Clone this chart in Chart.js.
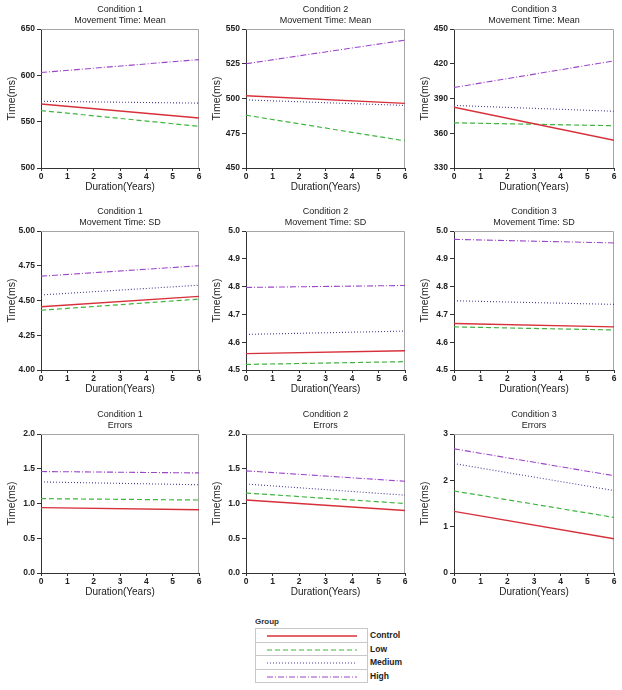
<!DOCTYPE html>
<html>
<head>
<meta charset="utf-8">
<script src="https://cdn.jsdelivr.net/npm/chart.js@4/dist/chart.umd.min.js"></script>
<style>
  body { margin: 0; background: #fff; width: 622px; height: 690px; position: relative; overflow: hidden;
         font-family: "Liberation Sans", Arial, sans-serif; }
  canvas.panel { position: absolute; }
  #legendTitle { position: absolute; left: 255px; top: 617px; font-size: 8px; font-weight: bold; color: #333; }
  #legend { position: absolute; left: 255px; top: 628px; }
  .lrow { position: relative; width: 111px; height: 12.6px; border: 1px solid #c8c8c8; border-top: none; }
  .lrow:first-child { border-top: 1px solid #c8c8c8; }
  .lrow canvas { position: absolute; left: 10px; top: 1px; }
  .lrow span { position: absolute; left: 114px; top: 1px; font-size: 8.5px; font-weight: bold; color: #222; white-space: nowrap; }
</style>
</head>
<body>
<div id="legendTitle">Group</div>
<div id="legend"></div>
<script>
// x values (years) - lines are straight, read at both ends
const years = [0, 6];
const groups = ['Control', 'Low', 'Medium', 'High'];
const groupColors = ['#d7303a', '#3fb53f', '#45418f', '#9b45c9'];
const groupDash = [[], [5, 3], [1, 2], [6, 2, 1, 2]];
const groupWidth = [1.4, 1.2, 1.1, 1.1];

// series per panel, order: Control, Low, Medium, High
const mtMeanCond1 = [[569, 554], [562, 545], [572, 570], [603, 617]];
const mtMeanCond2 = [[502, 496.5], [488, 469.5], [499, 495], [525, 542]];
const mtMeanCond3 = [[382.5, 354], [369, 366.5], [384, 379], [399.5, 422.5]];
const mtSdCond1 = [[4.455, 4.53], [4.43, 4.51], [4.54, 4.61], [4.675, 4.75]];
const mtSdCond2 = [[4.559, 4.569], [4.52, 4.53], [4.628, 4.64], [4.797, 4.804]];
const mtSdCond3 = [[4.667, 4.655], [4.655, 4.644], [4.749, 4.736], [4.97, 4.957]];
const errCond1 = [[0.94, 0.91], [1.07, 1.05], [1.31, 1.27], [1.46, 1.44]];
const errCond2 = [[1.05, 0.9], [1.15, 1.0], [1.28, 1.12], [1.47, 1.32]];
const errCond3 = [[1.33, 0.74], [1.77, 1.2], [2.36, 1.78], [2.68, 2.1]];

// y axis settings per panel: [min, max, step, decimals]
const yMeanCond1 = [500, 650, 50, 0];
const yMeanCond2 = [450, 550, 25, 0];
const yMeanCond3 = [330, 450, 30, 0];
const ySdCond1 = [4.0, 5.0, 0.25, 2];
const ySdCond2 = [4.5, 5.0, 0.1, 1];
const ySdCond3 = [4.5, 5.0, 0.1, 1];
const yErrCond1 = [0, 2, 0.5, 1];
const yErrCond2 = [0, 2, 0.5, 1];
const yErrCond3 = [0, 3, 1, 0];

const panels = [
  { t: ['Condition 1', 'Movement Time: Mean'], data: mtMeanCond1, y: yMeanCond1 },
  { t: ['Condition 2', 'Movement Time: Mean'], data: mtMeanCond2, y: yMeanCond2 },
  { t: ['Condition 3', 'Movement Time: Mean'], data: mtMeanCond3, y: yMeanCond3 },
  { t: ['Condition 1', 'Movement Time: SD'], data: mtSdCond1, y: ySdCond1 },
  { t: ['Condition 2', 'Movement Time: SD'], data: mtSdCond2, y: ySdCond2 },
  { t: ['Condition 3', 'Movement Time: SD'], data: mtSdCond3, y: ySdCond3 },
  { t: ['Condition 1', 'Errors'], data: errCond1, y: yErrCond1 },
  { t: ['Condition 2', 'Errors'], data: errCond2, y: yErrCond2 },
  { t: ['Condition 3', 'Errors'], data: errCond3, y: yErrCond3 }
];

// plot area layout
const plotLefts = [41, 246, 454];
const plotRights = [199, 405, 614];
const plotTops = [29, 231, 434];
const plotH = 139;
const yAxisW = 41, xAxisH = 30, padTop = 29, padRight = 7;

const FONT = '"Liberation Sans", Arial, sans-serif';

const framePlugin = {
  id: 'frame',
  beforeDatasetsDraw(chart) {
    const a = chart.chartArea, ctx = chart.ctx;
    ctx.save();
    ctx.strokeStyle = '#a6a6a6';
    ctx.lineWidth = 1;
    ctx.beginPath();
    ctx.moveTo(a.left, a.top + 0.5);
    ctx.lineTo(a.right - 0.5, a.top + 0.5);
    ctx.lineTo(a.right - 0.5, a.bottom);
    ctx.stroke();
    ctx.restore();
  }
};

const titlePlugin = {
  id: 'panelTitle',
  afterDraw(chart, args, opts) {
    const a = chart.chartArea, ctx = chart.ctx;
    const cx = (a.left + a.right) / 2;
    ctx.save();
    ctx.fillStyle = '#222';
    ctx.font = '9px ' + FONT;
    ctx.textAlign = 'center';
    ctx.textBaseline = 'middle';
    ctx.fillText(opts.lines[0], cx, a.top - 19);
    ctx.fillText(opts.lines[1], cx, a.top - 8);
    ctx.restore();
  }
};

panels.forEach((p, i) => {
  const col = i % 3, row = Math.floor(i / 3);
  const left = plotLefts[col] - yAxisW;
  const top = plotTops[row] - padTop;
  const w = plotRights[col] + padRight - left;
  const h = padTop + plotH + xAxisH;

  const cv = document.createElement('canvas');
  cv.className = 'panel';
  cv.width = w; cv.height = h;
  cv.style.left = left + 'px';
  cv.style.top = top + 'px';
  document.body.appendChild(cv);

  const [ymin, ymax, ystep, dec] = p.y;

  new Chart(cv, {
    type: 'line',
    data: {
      datasets: p.data.map((vals, g) => ({
        label: groups[g],
        data: years.map((x, k) => ({ x: x, y: vals[k] })),
        borderColor: groupColors[g],
        borderWidth: groupWidth[g],
        borderDash: groupDash[g],
        pointRadius: 0,
        fill: false,
        tension: 0
      }))
    },
    options: {
      responsive: false,
      maintainAspectRatio: false,
      animation: false,
      layout: { padding: { top: padTop, right: padRight, left: 0, bottom: 0 } },
      plugins: {
        legend: { display: false },
        tooltip: { enabled: false },
        panelTitle: { lines: p.t }
      },
      scales: {
        x: {
          type: 'linear', min: 0, max: 6,
          afterFit(scale) { scale.height = xAxisH; },
          ticks: { stepSize: 1, padding: 1, color: '#222', font: { family: FONT, size: 8.5, weight: 'bold' } },
          grid: { drawOnChartArea: false, drawTicks: true, tickLength: 3, color: '#333' },
          border: { display: true, color: '#333', width: 1 },
          title: { display: true, text: 'Duration(Years)', color: '#222',
                   font: { family: FONT, size: 10 }, padding: { top: 0, bottom: 4.5 } }
        },
        y: {
          min: ymin, max: ymax,
          afterFit(scale) { scale.width = yAxisW; },
          ticks: { stepSize: ystep, padding: 2, color: '#222',
                   font: { family: FONT, size: 8.5, weight: 'bold' },
                   callback: v => Number(v).toFixed(dec) },
          grid: { drawOnChartArea: false, drawTicks: true, tickLength: 4, color: '#333' },
          border: { display: true, color: '#333', width: 1 },
          title: { display: true, text: 'Time(ms)', color: '#222',
                   font: { family: FONT, size: 10.5 }, padding: { top: 5.5, bottom: 0 } }
        }
      }
    },
    plugins: [framePlugin, titlePlugin]
  });
});

// legend box
const legendEl = document.getElementById('legend');
groups.forEach((g, i) => {
  const rowEl = document.createElement('div');
  rowEl.className = 'lrow';
  const c = document.createElement('canvas');
  c.width = 92; c.height = 11;
  rowEl.appendChild(c);
  const s = document.createElement('span');
  s.textContent = g;
  rowEl.appendChild(s);
  legendEl.appendChild(rowEl);
  const ctx = c.getContext('2d');
  ctx.strokeStyle = groupColors[i];
  ctx.lineWidth = groupWidth[i];
  ctx.setLineDash(groupDash[i]);
  ctx.beginPath();
  ctx.moveTo(1, 6);
  ctx.lineTo(91, 6);
  ctx.stroke();
});
</script>
</body>
</html>
